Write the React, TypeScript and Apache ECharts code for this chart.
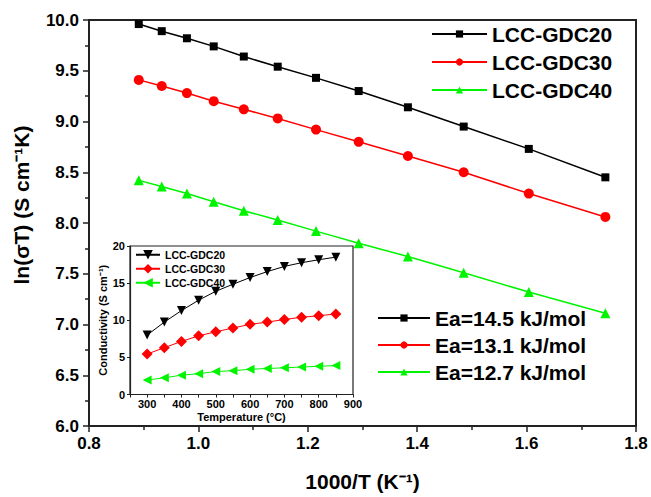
import React, { useEffect, useRef } from "react";
import * as echarts from "echarts";

// Main plot: 1000/T (K^-1) vs ln(sigma T)
const invT = [0.891, 0.933, 0.979, 1.028, 1.083, 1.145, 1.215, 1.293, 1.383, 1.485, 1.604, 1.744];
const lnGDC20 = [9.96, 9.89, 9.82, 9.74, 9.64, 9.54, 9.43, 9.3, 9.14, 8.95, 8.73, 8.45];
const lnGDC30 = [9.41, 9.35, 9.28, 9.2, 9.12, 9.03, 8.92, 8.8, 8.66, 8.5, 8.29, 8.06];
const lnGDC40 = [8.42, 8.36, 8.29, 8.21, 8.12, 8.03, 7.92, 7.8, 7.67, 7.51, 7.32, 7.11];

// Inset: temperature (°C) vs conductivity (S cm^-1)
const tempC = [300, 350, 400, 450, 500, 550, 600, 650, 700, 750, 800, 850];
const condGDC20 = [8.0, 9.75, 11.3, 12.7, 13.9, 14.85, 15.75, 16.55, 17.25, 17.75, 18.15, 18.5];
const condGDC30 = [5.45, 6.3, 7.15, 7.9, 8.45, 8.95, 9.45, 9.75, 10.1, 10.4, 10.6, 10.85];
const condGDC40 = [1.95, 2.25, 2.6, 2.8, 3.1, 3.2, 3.4, 3.5, 3.6, 3.7, 3.8, 3.9];

const seriesNames = ["LCC-GDC20", "LCC-GDC30", "LCC-GDC40"];
const eaLabels = ["Ea=14.5 kJ/mol", "Ea=13.1 kJ/mol", "Ea=12.7 kJ/mol"];
const insetIds = ["inset20", "inset30", "inset40"];

const FONT = "'Liberation Sans', Arial, sans-serif";
const BLACK = "#000000";
const RED = "#ff0000";
const GREEN = "#00f400";

export default function App() {
  const ref = useRef<HTMLDivElement>(null);
  useEffect(() => {
    const chart = echarts.init(ref.current!, null, { renderer: "svg" });
    const mainSeries = [lnGDC20, lnGDC30, lnGDC40].map((vals, k) => ({
      type: "line",
      name: seriesNames[k],
      xAxisIndex: 0,
      yAxisIndex: 0,
      data: invT.map((x, i) => [x, vals[i]]),
      symbol: ["rect", "circle", "triangle"][k],
      symbolSize: [8, 10, 10][k],
      color: [BLACK, RED, GREEN][k],
      itemStyle: { color: [BLACK, RED, GREEN][k] },
      lineStyle: { width: 1.5, color: [BLACK, RED, GREEN][k] },
      z: 3,
    }));
    const insetSeries = [condGDC20, condGDC30, condGDC40].map((vals, k) => ({
      type: "line",
      name: insetIds[k],
      xAxisIndex: 1,
      yAxisIndex: 1,
      data: tempC.map((t, i) => [t, vals[i]]),
      symbol: ["triangle", "diamond", "triangle"][k],
      symbolRotate: [180, 0, 90][k],
      symbolSize: [9, 11, 9][k],
      color: [BLACK, RED, GREEN][k],
      itemStyle: { color: [BLACK, RED, GREEN][k] },
      lineStyle: { width: 1, color: [BLACK, RED, GREEN][k] },
      z: 5,
    }));

    const mainTickLabel = { fontSize: 17, fontWeight: "bold", color: BLACK, fontFamily: FONT };
    const insetTickLabel = { fontSize: 11, fontWeight: "bold", color: BLACK, fontFamily: FONT };

    chart.setOption({
      animation: false,
      backgroundColor: "#ffffff",
      grid: [
        {
          left: 89, right: 15, top: 20, bottom: 71,
          show: true, borderColor: "#222", borderWidth: 2, backgroundColor: "transparent",
          containLabel: false, outerBoundsMode: "none",
        },
        {
          left: 130, right: 298, top: 246, bottom: 102.5,
          show: true, borderColor: "#222", borderWidth: 1.2, backgroundColor: "#ffffff",
          containLabel: false, outerBoundsMode: "none", z: 4,
        },
      ],
      xAxis: [
        {
          type: "value", gridIndex: 0, min: 0.8, max: 1.8, interval: 0.2,
          splitLine: { show: false },
          axisLine: { show: true, onZero: false, lineStyle: { color: "#222", width: 2 } },
          axisTick: { show: true, inside: false, length: 6, lineStyle: { color: "#222", width: 1.5 } },
          minorTick: { show: true, splitNumber: 2, length: 4, lineStyle: { color: "#222", width: 1.5 } },
          axisLabel: { ...mainTickLabel, margin: 9, formatter: (v: number) => v.toFixed(1) },
          name: "1000/T (K⁻¹)",
          nameLocation: "middle",
          nameGap: 45,
          nameTextStyle: { fontSize: 21, fontWeight: "bold", color: BLACK, fontFamily: FONT },
        },
        {
          type: "value", gridIndex: 1, min: 250, max: 900, interval: 50,
          splitLine: { show: false },
          axisLine: { show: true, onZero: false, lineStyle: { color: "#222", width: 1.2 } },
          axisTick: { show: true, inside: false, length: 3, lineStyle: { color: "#222", width: 1 } },
          axisLabel: {
            ...insetTickLabel, margin: 4,
            formatter: (v: number) => (v % 100 === 0 ? String(v) : ""),
          },
          name: "Temperature (°C)",
          nameLocation: "middle",
          nameGap: 17,
          nameTextStyle: { fontSize: 11, fontWeight: "bold", color: BLACK, fontFamily: FONT },
          z: 6,
        },
      ],
      yAxis: [
        {
          type: "value", gridIndex: 0, min: 6, max: 10, interval: 0.5,
          splitLine: { show: false },
          axisLine: { show: true, onZero: false, lineStyle: { color: "#222", width: 2 } },
          axisTick: { show: true, inside: false, length: 6, lineStyle: { color: "#222", width: 1.5 } },
          minorTick: { show: true, splitNumber: 2, length: 4, lineStyle: { color: "#222", width: 1.5 } },
          axisLabel: { ...mainTickLabel, margin: 10, formatter: (v: number) => v.toFixed(1) },
        },
        {
          type: "value", gridIndex: 1, min: 0, max: 20, interval: 5,
          splitLine: { show: false },
          axisLine: { show: true, onZero: false, lineStyle: { color: "#222", width: 1.2 } },
          axisTick: { show: true, inside: false, length: 3, lineStyle: { color: "#222", width: 1 } },
          axisLabel: { ...insetTickLabel, margin: 5 },
          name: "Conductivity (S cm⁻¹)",
          nameLocation: "middle",
          nameGap: 19,
          nameTextStyle: { fontSize: 11, fontWeight: "bold", color: BLACK, fontFamily: FONT },
          z: 6,
        },
      ],
      legend: [
        {
          data: seriesNames,
          orient: "vertical",
          left: 426,
          top: 18.5,
          itemWidth: 55,
          itemHeight: 9,
          itemGap: 7,
          selectedMode: false,
          textStyle: { fontSize: 21, lineHeight: 21, fontWeight: "bold", color: BLACK, fontFamily: FONT },
        },
        {
          data: seriesNames,
          orient: "vertical",
          left: 372,
          top: 302.5,
          itemWidth: 52,
          itemHeight: 9,
          itemGap: 6,
          selectedMode: false,
          formatter: (name: string) => eaLabels[seriesNames.indexOf(name)],
          textStyle: { fontSize: 21, lineHeight: 21, fontWeight: "bold", color: BLACK, fontFamily: FONT },
        },
        {
          data: insetIds,
          orient: "vertical",
          left: 130,
          top: 243.5,
          itemWidth: 24,
          itemHeight: 12,
          itemGap: 1.5,
          selectedMode: false,
          z: 7,
          formatter: (name: string) => seriesNames[insetIds.indexOf(name)],
          textStyle: { fontSize: 10.5, lineHeight: 12.5, fontWeight: "bold", color: BLACK, fontFamily: FONT },
        },
      ],
      graphic: [
        {
          type: "text",
          x: 21,
          y: 205,
          rotation: Math.PI / 2,
          style: {
            text: "ln(σT) (S cm⁻¹K)",
            fontSize: 21,
            fontWeight: "bold",
            fontFamily: FONT,
            fill: BLACK,
            align: "center",
            verticalAlign: "middle",
          },
        },
      ],
      series: [...mainSeries, ...insetSeries],
    });
    return () => chart.dispose();
  }, []);
  return (
    <div
      ref={ref}
      style={{ position: "fixed", left: 0, top: 0, width: 651, height: 497, background: "#fff" }}
    />
  );
}
